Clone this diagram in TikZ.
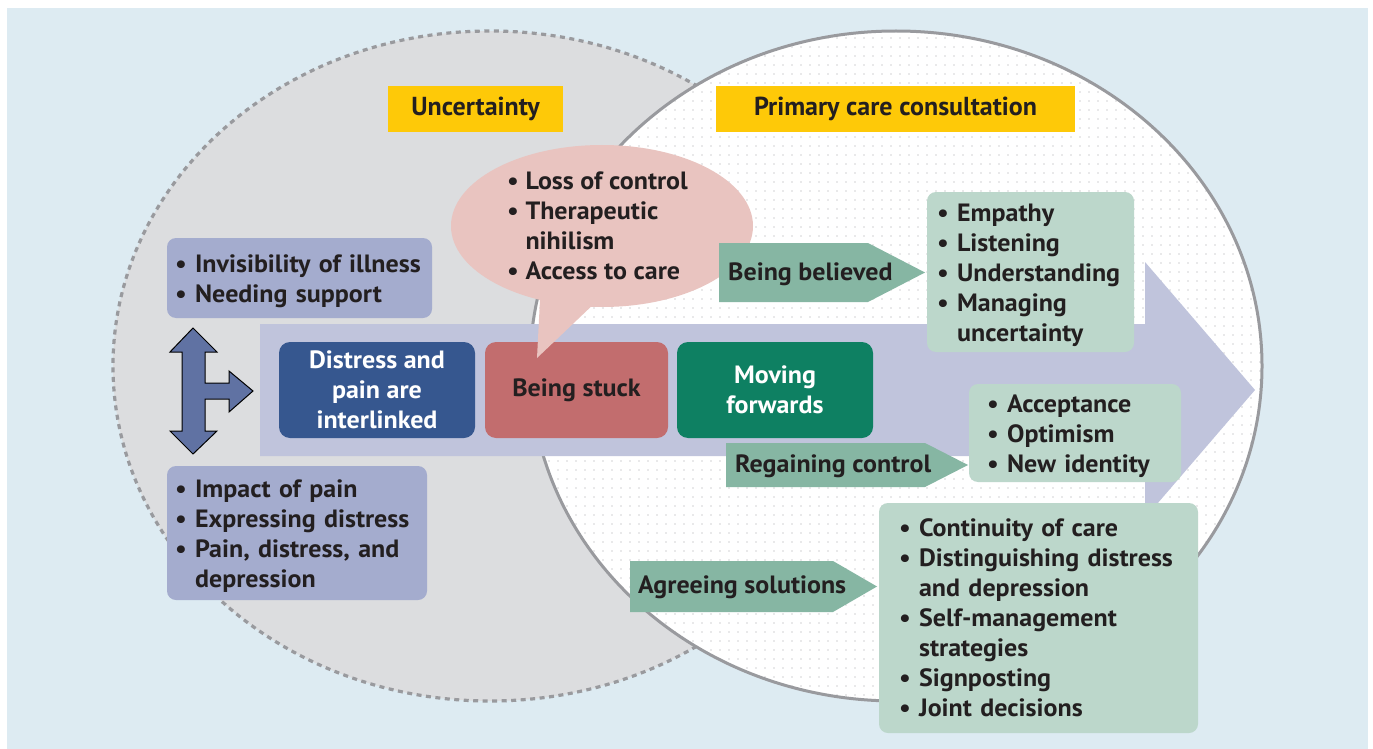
\documentclass[tikz,border=0pt]{standalone}
\usepackage{fontspec}
\setmainfont{PT Sans}
\newfontfamily\bodyfam[FakeStretch=1.04]{PT Sans}
\newfontfamily\condfont[FakeStretch=1.0]{PT Sans}
\usetikzlibrary{patterns.meta}
\definecolor{bgblue}{RGB}{221,235,242}
\definecolor{lgray}{RGB}{220,221,223}
\definecolor{edgegray}{RGB}{153,154,158}
\definecolor{dotgray}{RGB}{160,160,166}
\definecolor{lavbox}{RGB}{164,172,206}
\definecolor{lavarrow}{RGB}{192,196,220}
\definecolor{darkblue}{RGB}{54,87,143}
\definecolor{stuckred}{RGB}{194,109,110}
\definecolor{movegreen}{RGB}{14,128,98}
\definecolor{bubblepink}{RGB}{233,196,192}
\definecolor{garrow}{RGB}{134,182,163}
\definecolor{lgreen}{RGB}{188,215,203}
\definecolor{titleyellow}{RGB}{254,201,8}
\definecolor{dblarrow}{RGB}{96,114,163}
\definecolor{txt}{RGB}{35,31,32}
\newcommand\firstline{\rule{0pt}{24pt}}
\tikzset{
  bodyfont/.style={font=\bodyfam\bfseries\fontsize{25}{30}\selectfont, text=txt},
  listbox/.style={bodyfont, rounded corners=9pt, align=left, inner ysep=0pt},
  lavlist/.style={listbox, fill=lavbox},
  grnlist/.style={listbox, fill=lgreen},
  stage/.style={bodyfont, rounded corners=11pt, align=center, inner sep=0pt,
    minimum height=96pt},
  titlebox/.style={fill=titleyellow, font=\condfont\bfseries\fontsize{26}{30}\selectfont,
    text=txt, minimum height=46pt, inner sep=0pt, text height=19pt, text depth=5pt},
  glabel/.style={bodyfont, anchor=base west, inner sep=0pt},
}
\begin{document}
\begin{tikzpicture}[x=1pt, y=-1pt]
\useasboundingbox (0,0) rectangle (1373,749);
% background
\fill[white] (0,0) rectangle (1373,749);
\fill[bgblue] (7,8) rectangle (1368,749);
% left ellipse (uncertainty)
\fill[lgray] (490,366) ellipse [x radius=377pt, y radius=335pt];
\draw[edgegray, line width=3.2pt, dash pattern=on 5pt off 4.5pt] (490,366) ellipse [x radius=377pt, y radius=335pt];
% right ellipse (primary care)
\fill[white] (896,366) ellipse [x radius=366pt, y radius=335pt];
\fill[pattern={Dots[radius=0.6pt, distance=9pt]}, pattern color=dotgray] (896,366) ellipse [x radius=366pt, y radius=335pt];
\draw[edgegray, line width=3pt] (896,366) ellipse [x radius=366pt, y radius=335pt];
% big arrow
\fill[lavarrow] (260,324) -- (1145,324) -- (1145,262) -- (1255,390) -- (1145,518) -- (1145,456) -- (260,456) -- cycle;
% titles
\node[titlebox, minimum width=175pt] (unc) at (475.5,109) {Uncertainty};
\node[titlebox, minimum width=359pt] (pcc) at (895.5,109) {Primary care consultation};
% left lists
\node[lavlist, minimum height=80pt, text width=249pt, inner xsep=8pt] (inv) at (299.5,278)
  {\firstline•\ Invisibility of illness\\ •\ Needing support};
\node[lavlist, minimum height=134pt, text width=244pt, inner xsep=8pt] (imp) at (297,533)
  {\firstline•\ Impact of pain\\ •\ Expressing distress\\ •\ Pain, distress, and\\ \phantom{•\ }depression};
% double arrow
\filldraw[fill=dblarrow, draw=black, line width=1pt, line join=miter]
  (193,328) -- (217,352) -- (205,352) -- (205,383) -- (229,383) -- (229,371) -- (253,391)
  -- (229,412) -- (229,399) -- (205,399) -- (205,431) -- (217,431) -- (193,454)
  -- (170,431) -- (182,431) -- (182,352) -- (170,352) -- cycle;
\coordinate (dbl) at (193,391);
% stages
\node[stage, fill=darkblue, text=white, minimum width=196pt] (dist) at (377,390)
  {Distress and\\ pain are\\ interlinked};
\node[stage, fill=stuckred, minimum width=183pt] (stuck) at (576.5,390) {Being stuck};
\node[stage, fill=movegreen, text=white, minimum width=196pt] (move) at (775,390)
  {Moving\\ forwards};
% speech bubble
\fill[bubblepink] (602,226) ellipse [x radius=151pt, y radius=81pt];
\fill[bubblepink] (540,300) -- (537,358) -- (598,300) -- cycle;
\node[bodyfont, anchor=west, align=left, inner sep=0pt] (bubble) at (507,226)
  {•\ Loss of control\\ •\ Therapeutic\\ \phantom{•\ }nihilism\\ •\ Access to care};
% green arrows
\fill[garrow] (719,243) -- (868,243) -- (925,272.5) -- (868,302) -- (719,302) -- cycle;
\node[glabel] (believed) at (728,280.5) {Being believed};
\fill[garrow] (726,443) -- (925,443) -- (968,465) -- (925,487) -- (726,487) -- cycle;
\node[glabel] (regain) at (735,472) {Regaining control};
\fill[garrow] (630,561) -- (833,561) -- (877,586.5) -- (833,612) -- (630,612) -- cycle;
\node[glabel] (agree) at (638,593.5) {Agreeing solutions};
% right lists
\node[grnlist, minimum height=160pt, text width=187pt, inner xsep=10pt] (emp) at (1030.5,272)
  {\firstline•\ Empathy\\ •\ Listening\\ •\ Understanding\\ •\ Managing\\ \phantom{•\ }uncertainty};
\node[grnlist, minimum height=98pt, text width=176pt, inner xsep=18pt] (acc) at (1075,433)
  {\firstline•\ Acceptance\\ •\ Optimism\\ •\ New identity};
\node[grnlist, minimum height=230pt, text width=279pt, inner xsep=20pt] (cont) at (1038.5,618)
  {\mbox{•\ Continuity of care}\\ \mbox{•\ Distinguishing distress}\\ \mbox{\phantom{•\ }and depression}\\ \mbox{•\ Self-management}\\ \mbox{\phantom{•\ }strategies}\\ \mbox{•\ Signposting}\\ \mbox{•\ Joint decisions}};
\end{tikzpicture}
\end{document}
